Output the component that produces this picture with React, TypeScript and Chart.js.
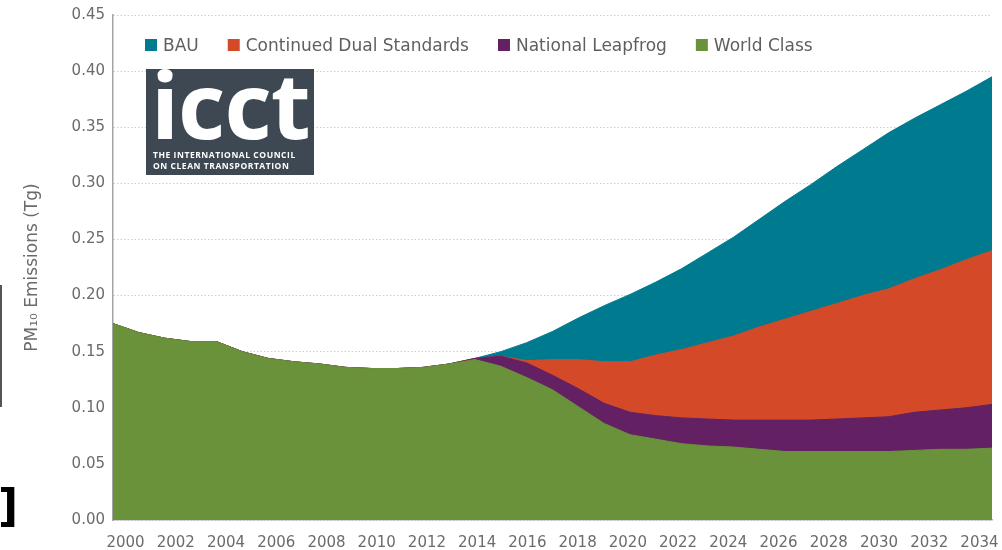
import React, { useEffect, useRef } from "react";
import { Chart, registerables } from "chart.js";

Chart.register(...registerables);

const years = [
  "2000", "2001", "2002", "2003", "2004", "2005", "2006", "2007", "2008", "2009",
  "2010", "2011", "2012", "2013", "2014", "2015", "2016", "2017", "2018", "2019",
  "2020", "2021", "2022", "2023", "2024", "2025", "2026", "2027", "2028", "2029",
  "2030", "2031", "2032", "2033", "2034",
];

const worldClass = [
  0.175, 0.167, 0.162, 0.159, 0.159, 0.150, 0.144, 0.141, 0.139, 0.136,
  0.135, 0.135, 0.136, 0.139, 0.143, 0.137, 0.127, 0.116, 0.101, 0.086,
  0.076, 0.072, 0.068, 0.066, 0.065, 0.063, 0.061, 0.061, 0.061, 0.061,
  0.061, 0.062, 0.063, 0.063, 0.064,
];

const nationalLeapfrog = [
  0.175, 0.167, 0.162, 0.159, 0.159, 0.150, 0.144, 0.141, 0.139, 0.136,
  0.135, 0.135, 0.136, 0.139, 0.144, 0.146, 0.140, 0.129, 0.117, 0.104,
  0.096, 0.093, 0.091, 0.090, 0.089, 0.089, 0.089, 0.089, 0.090, 0.091,
  0.092, 0.096, 0.098, 0.100, 0.103,
];

const continuedDual = [
  0.175, 0.167, 0.162, 0.159, 0.159, 0.150, 0.144, 0.141, 0.139, 0.136,
  0.135, 0.135, 0.136, 0.139, 0.144, 0.146, 0.142, 0.143, 0.143, 0.141,
  0.141, 0.147, 0.152, 0.158, 0.164, 0.172, 0.179, 0.186, 0.193, 0.200,
  0.206, 0.215, 0.223, 0.232, 0.240,
];

const bau = [
  0.175, 0.167, 0.162, 0.159, 0.159, 0.150, 0.144, 0.141, 0.139, 0.136,
  0.135, 0.135, 0.136, 0.139, 0.144, 0.150, 0.158, 0.168, 0.180, 0.191,
  0.201, 0.212, 0.224, 0.238, 0.252, 0.268, 0.284, 0.299, 0.315, 0.330,
  0.345, 0.358, 0.370, 0.382, 0.395,
];

const seriesNames = ["BAU", "Continued Dual Standards", "National Leapfrog", "World Class"];
const seriesColors = ["#007A8F", "#D44A29", "#632163", "#6A923B"];

const FONT = "'DejaVu Sans', sans-serif";
const TEXT_COLOR = "#6b6b6b";

function makeDataset(label: string, data: number[], color: string, order: number) {
  return {
    label,
    data,
    backgroundColor: color,
    borderColor: color,
    borderWidth: 1,
    fill: "origin",
    pointRadius: 0,
    pointHoverRadius: 0,
    tension: 0,
    order,
  };
}

// Legend drawn inside the plot area, in a single row along its top.
const insideLegend = {
  id: "insideLegend",
  afterDraw(chart: any) {
    const { ctx, chartArea } = chart;
    const box = 12;
    let x = chartArea.left + 32;
    const boxTop = chartArea.top + 24;
    ctx.save();
    ctx.font = `17px ${FONT}`;
    ctx.textBaseline = "alphabetic";
    ctx.textAlign = "left";
    chart.data.datasets.forEach((ds: any) => {
      ctx.fillStyle = ds.backgroundColor;
      ctx.fillRect(x, boxTop, box, box);
      ctx.fillStyle = "#5f5f5f";
      const tx = x + 18;
      ctx.fillText(ds.label, tx, boxTop + 11.5);
      x = tx + ctx.measureText(ds.label).width + 29;
    });
    ctx.restore();
  },
};

export default function App() {
  const ref = useRef<HTMLCanvasElement>(null);

  useEffect(() => {
    if (!ref.current) return;
    const allSeries = [bau, continuedDual, nationalLeapfrog, worldClass];
    const chart = new Chart(ref.current, {
      type: "line",
      data: {
        labels: years,
        datasets: allSeries.map((s, i) =>
          makeDataset(seriesNames[i], s, seriesColors[i], allSeries.length - i)
        ) as any,
      },
      options: {
        responsive: false,
        animation: false,
        events: [],
        layout: { padding: { left: 0, top: 15, right: 10, bottom: 0 } },
        plugins: {
          legend: { display: false },
          tooltip: { enabled: false },
        },
        scales: {
          x: { type: "category", display: false, offset: false },
          x2: {
            type: "category",
            labels: years,
            position: "bottom",
            offset: true,
            grid: { display: false, drawTicks: false },
            border: { display: true, color: "#b5b5b5", width: 1.5 },
            ticks: {
              autoSkip: false,
              maxRotation: 0,
              minRotation: 0,
              padding: 14,
              color: TEXT_COLOR,
              font: { family: FONT, size: 15 },
              callback: (_v: any, i: number) => (i % 2 === 0 ? years[i] : ""),
            },
            afterFit: (s: any) => {
              s.height = 30;
              s.paddingLeft = 0;
              s.paddingRight = 0;
            },
          },
          y: {
            min: 0,
            max: 0.45,
            ticks: {
              stepSize: 0.05,
              padding: 8,
              color: TEXT_COLOR,
              font: { family: FONT, size: 15 },
              callback: (v: any) => Number(v).toFixed(2),
            },
            grid: { color: "#cfcfcf", lineWidth: 1, drawTicks: false },
            border: { display: true, color: "#a3a3a3", width: 1.5, dash: [1.5, 2] },
            title: {
              display: true,
              text: "PM₁₀ Emissions (Tg)",
              color: TEXT_COLOR,
              font: { family: FONT, size: 17 },
              padding: { top: 22, bottom: 0 },
            },
            afterFit: (s: any) => {
              s.width = 113;
              s.paddingTop = 0;
              s.paddingBottom = 0;
            },
          },
        } as any,
      },
      plugins: [insideLegend],
    });
    return () => chart.destroy();
  }, []);

  return (
    <div
      style={{
        position: "absolute",
        left: 0,
        top: 0,
        width: 1002,
        height: 550,
        background: "#ffffff",
        overflow: "hidden",
      }}
    >
      <canvas ref={ref} width={1002} height={550} style={{ display: "block" }} />
      <div
        style={{
          position: "absolute",
          left: 146,
          top: 69,
          width: 168,
          height: 106,
          background: "#3d4853",
          color: "#ffffff",
          fontFamily: "'Open Sans', sans-serif",
          fontWeight: 700,
        }}
      >
        <span
          style={{
            position: "absolute",
            left: 5,
            top: -11,
            fontSize: 92,
            lineHeight: 1,
            letterSpacing: -1,
            whiteSpace: "nowrap",
          }}
        >
          icct
        </span>
        <div
          style={{
            position: "absolute",
            left: 7,
            top: 81,
            fontSize: 8.5,
            lineHeight: "10.5px",
            letterSpacing: 0.55,
            whiteSpace: "nowrap",
          }}
        >
          THE INTERNATIONAL COUNCIL
          <br />
          ON CLEAN TRANSPORTATION
        </div>
      </div>
      <div
        style={{
          position: "absolute",
          left: 0,
          top: 285,
          width: 2,
          height: 122,
          background: "#555555",
        }}
      />
      <span
        style={{
          position: "absolute",
          left: -2,
          top: 484,
          fontFamily: "'DejaVu Sans', sans-serif",
          fontWeight: 700,
          fontSize: 44,
          lineHeight: 1,
          color: "#000000",
        }}
      >
        ]
      </span>
    </div>
  );
}
